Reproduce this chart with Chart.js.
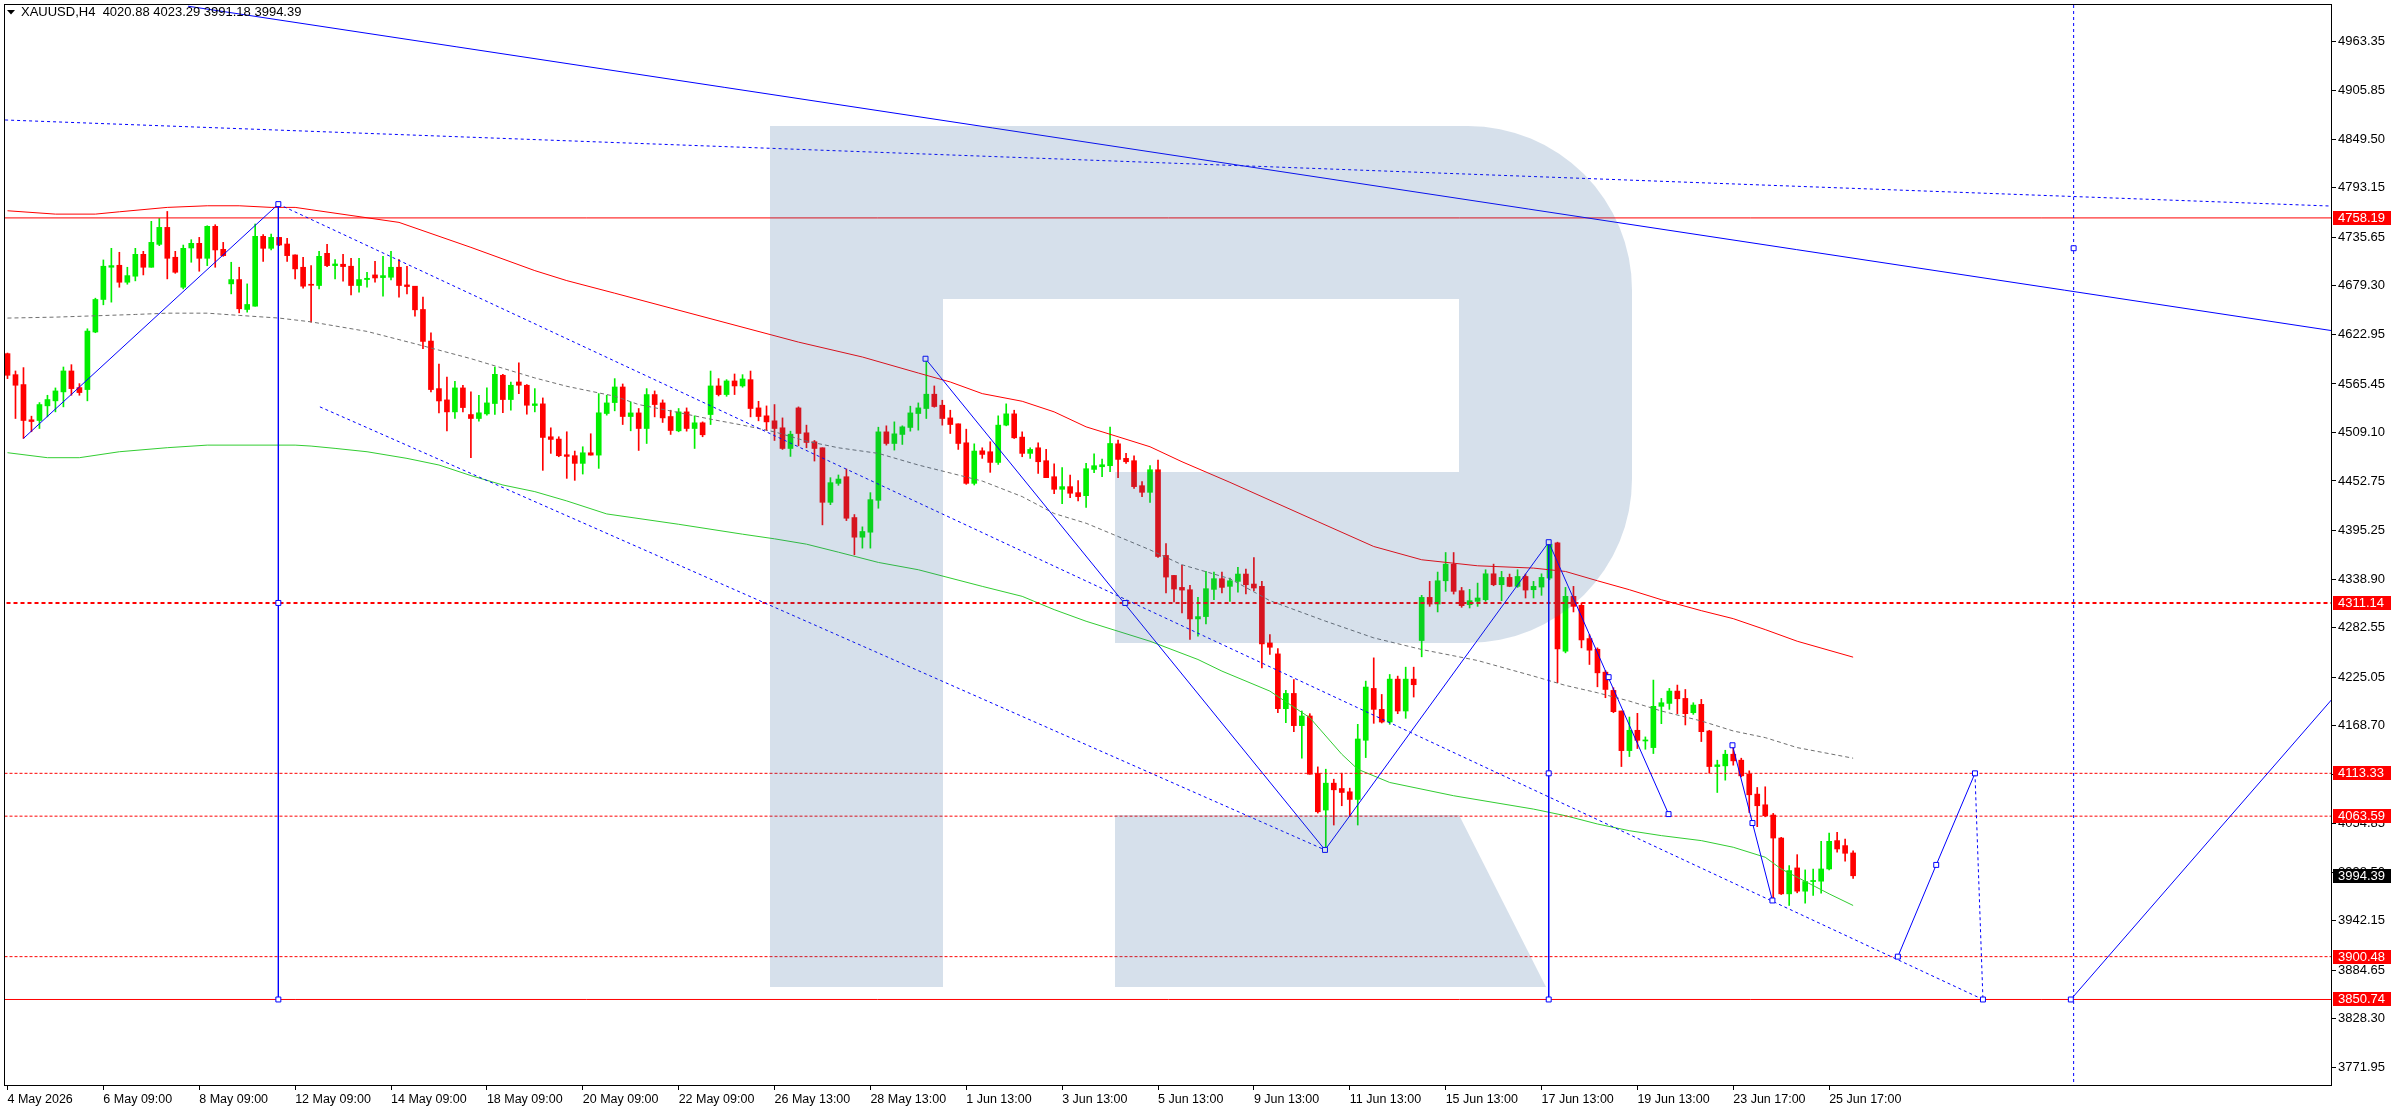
<!DOCTYPE html>
<html>
<head>
<meta charset="utf-8">
<script src="https://cdn.jsdelivr.net/npm/chart.js@4.4.1/dist/chart.umd.min.js"></script>
<style>
html, body { margin: 0; padding: 0; background: #fff; overflow: hidden; }
#chart { display: block; }
</style>
</head>
<body>
<canvas id="chart" width="2396" height="1110" style="width:2396px;height:1110px"></canvas>
<script>
// XAUUSD H4 candles, one per bar index (0 = first visible bar)
const opens = [
  4600.6,4576.2,4564.7,4523.8,4523.0,4540.0,4545.8,4556.2,4580.5,4561.2,
  4558.9,4625.7,4663.5,4700.9,4703.2,4683.5,4690.5,4715.9,4700.9,4727.5,
  4747.2,4712.5,4677.7,4723.3,4728.7,4711.3,4748.4,4721.7,4681.6,4686.6,
  4651.9,4655.7,4736.8,4722.9,4735.6,4727.9,4715.2,4700.9,4680.8,4679.7,
  4717.1,4702.8,4704.4,4702.1,4679.7,4686.6,4692.0,4688.9,4689.3,4700.9,
  4680.4,4678.9,4651.9,4615.2,4560.0,4546.9,4533.0,4560.8,4529.9,4525.3,
  4530.7,4542.7,4575.5,4547.3,4567.7,4563.9,4540.4,4542.3,4504.1,4501.4,
  4483.2,4482.1,4473.2,4485.5,4482.8,4531.1,4543.8,4561.9,4527.6,4531.8,
  4513.7,4553.1,4543.4,4527.6,4511.0,4533.0,4513.7,4520.3,4529.9,4563.1,
  4553.1,4568.9,4563.1,4570.4,4537.6,4528.4,4522.6,4514.5,4490.5,4537.6,
  4508.7,4498.3,4491.3,4428.0,4450.0,4457.7,4410.3,4387.5,4393.3,4430.3,
  4509.8,4496.3,4506.8,4514.9,4531.1,4536.9,4553.5,4540.7,4526.0,4519.1,
  4497.1,4450.0,4487.8,4486.7,4474.3,4517.6,4530.7,4503.7,4484.8,4491.3,
  4476.3,4457.7,4443.1,4446.2,4439.2,4435.7,4466.2,4469.3,4470.5,4495.9,
  4479.0,4476.3,4447.3,4439.6,4465.8,4366.3,4343.1,4329.2,4326.5,4292.6,
  4295.3,4326.9,4339.3,4330.4,4336.2,4344.7,4333.1,4330.4,4264.8,4252.0,
  4188.4,4206.1,4168.7,4179.9,4113.1,4070.7,4101.9,4095.7,4091.9,4083.0,
  4151.7,4211.9,4187.6,4172.9,4222.7,4185.7,4222.7,4267.5,4317.6,4309.9,
  4336.9,4356.2,4325.4,4309.1,4313.0,4314.9,4345.0,4332.3,4340.8,4330.4,
  4341.9,4326.5,4329.6,4340.0,4380.9,4255.1,4318.8,4308.4,4269.8,4257.4,
  4230.8,4209.6,4185.7,4139.7,4163.3,4150.9,4143.2,4191.1,4194.5,4208.8,
  4200.3,4183.7,4193.4,4162.5,4121.2,4122.0,4135.5,4128.6,4112.3,4089.2,
  4076.8,4064.9,4038.2,3973.4,4003.5,3976.5,3987.7,3988.1,4002.3,4035.2,
  4029.4,4020.88
];
const highs = [
  4601.3,4580.5,4584.4,4528.0,4543.8,4552.3,4560.8,4585.1,4587.8,4565.8,
  4629.5,4665.0,4709.4,4722.9,4718.3,4700.9,4722.9,4719.4,4754.2,4757.6,
  4765.7,4719.4,4726.7,4732.9,4735.6,4749.1,4750.3,4729.8,4706.7,4700.9,
  4681.6,4751.1,4738.7,4739.5,4735.6,4734.5,4715.2,4712.5,4702.8,4719.4,
  4727.5,4709.8,4715.9,4711.3,4711.3,4695.1,4707.8,4713.6,4719.4,4709.8,
  4702.1,4678.9,4666.2,4624.9,4588.6,4573.5,4568.5,4563.9,4556.2,4552.3,
  4560.8,4585.1,4576.6,4567.7,4589.8,4564.7,4560.0,4549.2,4514.5,4504.1,
  4509.9,4487.5,4492.5,4507.6,4554.2,4552.3,4571.6,4565.4,4544.6,4536.9,
  4560.0,4557.3,4546.9,4534.9,4536.9,4537.6,4528.4,4521.4,4580.4,4571.6,
  4570.4,4577.0,4576.2,4580.4,4545.3,4539.9,4541.5,4526.0,4510.6,4538.8,
  4517.6,4499.8,4491.3,4456.6,4459.7,4466.6,4413.8,4399.5,4439.2,4515.2,
  4516.8,4521.4,4516.8,4539.6,4543.4,4594.7,4563.1,4546.5,4534.9,4519.1,
  4512.9,4495.9,4491.3,4498.3,4528.4,4542.3,4534.9,4509.8,4491.3,4497.1,
  4489.4,4472.8,4468.2,4459.7,4453.1,4473.2,4484.4,4478.2,4515.2,4500.2,
  4484.8,4482.1,4452.0,4470.5,4477.0,4380.2,4343.1,4354.7,4331.6,4317.7,
  4347.8,4347.0,4347.0,4340.0,4352.4,4350.4,4363.9,4336.2,4274.4,4258.2,
  4209.6,4222.3,4185.7,4182.6,4120.8,4118.1,4106.5,4113.5,4096.1,4170.2,
  4220.4,4247.4,4204.9,4228.1,4226.2,4236.6,4236.6,4320.0,4336.2,4347.0,
  4369.7,4369.7,4329.2,4326.9,4334.2,4349.7,4356.2,4347.8,4344.7,4349.7,
  4344.7,4336.2,4345.0,4383.2,4381.7,4329.2,4330.4,4311.1,4274.4,4259.0,
  4232.7,4212.7,4185.7,4178.7,4183.0,4155.6,4221.6,4200.3,4211.9,4215.8,
  4210.7,4195.3,4199.2,4163.3,4128.6,4140.1,4146.3,4130.9,4116.2,4096.9,
  4097.7,4066.8,4039.0,4006.2,4018.9,4001.2,4002.3,4034.4,4044.0,4044.8,
  4037.1,4023.29
];
const lows = [
  4571.6,4525.3,4502.2,4509.9,4513.7,4527.2,4533.0,4538.8,4552.3,4552.3,
  4545.8,4624.9,4657.3,4660.4,4677.7,4681.2,4685.1,4692.0,4700.9,4726.0,
  4687.4,4693.9,4675.8,4706.7,4696.3,4702.8,4700.9,4713.6,4670.0,4648.0,
  4648.8,4655.7,4707.8,4721.0,4726.0,4707.8,4687.4,4676.6,4637.2,4675.8,
  4701.7,4687.4,4684.7,4668.9,4671.9,4677.7,4683.5,4667.3,4686.2,4666.2,
  4670.0,4644.2,4606.3,4556.2,4531.9,4511.0,4525.3,4533.0,4479.8,4522.2,
  4529.2,4529.9,4532.2,4534.9,4554.2,4530.3,4533.0,4465.1,4484.8,4480.9,
  4455.8,4453.5,4460.8,4482.8,4467.4,4529.2,4534.2,4518.3,4511.0,4488.2,
  4496.3,4527.2,4520.7,4506.8,4509.9,4510.6,4490.5,4504.1,4518.3,4551.5,
  4551.1,4553.1,4561.6,4527.2,4522.6,4511.4,4499.8,4489.4,4481.3,4493.6,
  4491.3,4475.9,4401.8,4425.3,4447.7,4406.8,4367.1,4374.8,4374.8,4421.1,
  4494.4,4488.6,4495.2,4510.6,4511.8,4525.3,4538.4,4517.6,4507.9,4489.4,
  4448.9,4448.1,4479.0,4462.8,4472.0,4516.8,4502.1,4480.9,4479.0,4461.6,
  4456.6,4438.1,4426.5,4433.4,4429.6,4422.2,4462.4,4457.7,4463.5,4456.6,
  4473.2,4444.2,4434.6,4428.0,4364.0,4322.7,4312.3,4299.5,4268.7,4272.5,
  4286.8,4314.9,4322.7,4313.0,4323.8,4321.5,4325.4,4235.8,4251.3,4183.7,
  4172.2,4161.7,4130.9,4112.3,4067.2,4024.4,4053.3,4075.7,4063.3,4053.3,
  4131.6,4171.4,4171.8,4170.2,4182.6,4177.2,4201.9,4248.6,4307.2,4300.7,
  4324.6,4321.5,4306.1,4305.3,4307.2,4313.0,4331.1,4313.8,4330.0,4329.2,
  4316.9,4316.9,4320.0,4338.0,4218.5,4253.2,4300.7,4259.0,4239.7,4213.8,
  4201.1,4183.7,4121.2,4132.8,4142.1,4141.3,4136.3,4171.0,4187.6,4182.6,
  4169.5,4181.8,4150.2,4113.5,4091.1,4105.4,4122.8,4109.3,4067.9,4051.4,
  4062.9,3966.5,3972.6,3959.9,3974.6,3962.6,3971.5,3974.2,4001.2,4021.7,
  4011.2,3991.18
];
const closes = [
  4575.5,4563.9,4523.0,4521.8,4541.5,4547.3,4557.3,4580.5,4560.0,4555.4,
  4626.8,4663.5,4702.1,4702.8,4683.5,4691.2,4715.9,4700.9,4729.8,4747.2,
  4711.3,4695.1,4722.9,4728.7,4711.3,4748.4,4721.0,4714.4,4686.6,4652.7,
  4657.7,4736.8,4722.9,4735.6,4726.7,4714.4,4699.0,4678.9,4680.0,4713.6,
  4702.8,4704.7,4701.7,4679.7,4686.6,4688.1,4688.5,4691.2,4700.9,4679.7,
  4678.5,4651.5,4614.8,4558.9,4545.7,4533.0,4560.8,4538.0,4525.3,4531.9,
  4543.4,4576.6,4547.3,4563.9,4563.9,4540.7,4542.3,4503.3,4501.0,4482.1,
  4481.3,4473.2,4485.5,4482.8,4531.9,4543.4,4561.9,4527.6,4531.8,4513.7,
  4553.1,4541.5,4526.0,4511.4,4533.0,4513.7,4520.3,4506.4,4563.1,4553.1,
  4568.9,4563.1,4571.2,4536.9,4527.6,4521.4,4513.7,4490.5,4507.1,4507.9,
  4497.5,4490.5,4428.0,4450.8,4455.0,4409.5,4387.5,4394.1,4431.1,4509.8,
  4496.3,4507.5,4515.6,4531.8,4537.6,4553.5,4539.2,4525.3,4518.3,4496.3,
  4450.0,4487.5,4483.6,4474.3,4517.6,4530.7,4502.9,4484.8,4489.4,4475.1,
  4456.6,4443.1,4446.2,4438.5,4434.6,4467.0,4470.5,4471.6,4496.3,4477.8,
  4475.1,4446.2,4439.6,4465.8,4365.1,4341.2,4327.3,4326.1,4292.6,4295.3,
  4327.7,4339.3,4329.2,4336.9,4344.7,4332.3,4328.5,4263.6,4259.7,4188.4,
  4206.1,4168.7,4179.9,4112.3,4068.7,4101.9,4094.2,4091.1,4083.0,4153.2,
  4213.5,4187.6,4172.9,4222.7,4185.7,4222.7,4216.2,4317.6,4309.9,4336.9,
  4356.2,4324.6,4308.0,4313.8,4316.9,4345.0,4332.3,4340.8,4330.4,4341.9,
  4326.1,4330.4,4340.8,4379.4,4257.8,4318.8,4307.2,4268.2,4256.3,4230.0,
  4210.7,4184.9,4139.7,4163.3,4151.7,4152.1,4191.1,4195.3,4208.8,4199.9,
  4182.6,4192.6,4161.7,4121.2,4123.2,4135.5,4127.8,4110.4,4088.4,4075.7,
  4064.1,4038.2,3973.4,4000.4,3976.5,3987.7,3988.9,4002.3,4034.4,4025.5,
  4020.5,3994.39
];

// time axis: label every 12 bars
const timeTickBars = [0,12,24,36,48,60,72,84,96,108,120,132,144,156,168,180,192,204,216,228];
const timeLabels = ["4 May 2026","6 May 09:00","8 May 09:00","12 May 09:00","14 May 09:00",
  "18 May 09:00","20 May 09:00","22 May 09:00","26 May 13:00","28 May 13:00",
  "1 Jun 13:00","3 Jun 13:00","5 Jun 13:00","9 Jun 13:00","11 Jun 13:00",
  "15 Jun 13:00","17 Jun 13:00","19 Jun 13:00","23 Jun 17:00","25 Jun 17:00"];

const priceTicks = [4963.35,4905.85,4849.50,4793.15,4735.65,4679.30,4622.95,4565.45,4509.10,
  4452.75,4395.25,4338.90,4282.55,4225.05,4168.70,4112.35,4054.85,3998.50,3942.15,3884.65,
  3828.30,3771.95];
const priceMin = 3750.3, priceMax = 5005.4;

// moving averages, read at sample bars
const redMaBars = [0,6,11,14,20,25,29,33,36,38,49,58,66,70,76,99,107,114,118,122,127,131,135,139,143,147,153,164,171,177,184,191,195,199,203,207,212,216,220,224,231];
const redMaVals = [4766.5,4762.6,4762.6,4765.3,4770.4,4772.3,4772.3,4770.4,4770.4,4767.7,4753.0,4724.0,4697.0,4685.4,4670.8,4614.0,4596.7,4578.1,4567.7,4554.2,4545.3,4533.0,4515.6,4504.1,4492.5,4475.1,4451.2,4405.6,4376.7,4361.3,4354.3,4351.6,4347.7,4336.9,4326.5,4314.9,4302.2,4292.9,4280.2,4266.7,4248.2];
const grayMaBars = [0,6,16,20,25,29,34,38,45,51,58,66,70,76,79,84,88,92,96,100,104,109,114,122,127,131,135,139,143,147,153,158,165,171,177,184,191,195,199,203,207,212,216,220,224,231];
const grayMaVals = [4641.9,4643.0,4646.1,4647.6,4647.6,4645.0,4641.9,4637.5,4626.4,4612.1,4594.8,4572.4,4562.7,4551.2,4541.5,4532.2,4524.5,4517.6,4509.8,4499.0,4491.3,4484.8,4471.3,4452.7,4434.6,4415.0,4403.7,4388.3,4372.8,4355.5,4339.3,4313.8,4289.9,4270.6,4257.1,4244.3,4226.2,4215.4,4206.9,4197.2,4185.7,4174.1,4162.5,4154.8,4143.2,4130.9];
const greenMaBars = [0,5,9,14,20,25,36,38,41,45,50,54,58,62,66,70,75,84,92,96,100,104,109,114,122,127,131,135,139,143,149,152,158,163,167,169,173,181,191,195,199,203,207,212,216,220,222,224,228,231];
const greenMaVals = [4485.6,4479.8,4479.8,4486.7,4491.4,4494.4,4494.4,4493.3,4490.6,4486.7,4479.0,4471.3,4459.0,4448.1,4440.4,4429.6,4414.5,4402.5,4391.0,4385.6,4379.4,4370.1,4358.2,4349.7,4330.4,4318.8,4303.4,4289.9,4278.3,4266.7,4245.5,4232.0,4208.8,4177.9,4135.5,4118.1,4102.7,4087.3,4071.8,4064.1,4054.5,4046.7,4041.0,4035.2,4027.5,4015.9,4002.3,3992.7,3973.4,3959.9];

// drawn objects: [bar, price] points
const solidLines = [
  [[2, 4502.2], [33.9, 4774.2]],
  [[114.9, 4594.7], [164.9, 4024.4], [192.9, 4381.7]],
  [[192.9, 4381.7], [207.9, 4066.0]],
  [[215.9, 4145.9], [220.9, 3965.7]],
  [[236.6, 3900.5], [241.4, 4007.0], [246.25, 4113.33]],
  [[258.25, 3850.74], [291, 4200.0]],
  [[33.9, 4774.2], [33.9, 3850.74]],
  [[192.9, 4381.7], [192.9, 3850.74]],
  [[22.6, 5004.0], [291, 4627.2]]
];
const dottedLines = [
  [[33.9, 4774.2], [247.25, 3850.74]],
  [[39.1, 4538.8], [164.9, 4024.4]],
  [[-0.3, 4871.9], [291, 4771.9]],
  [[246.25, 4113.33], [247.25, 3850.74]],
  [[258.6, 5005.4], [258.6, 3750.3]]
];
const anchorPoints = [[33.9,4774.2],[33.9,4311.14],[33.9,3850.74],[114.9,4594.7],[139.9,4311.1],
  [164.9,4024.4],[192.9,4381.7],[192.9,4113.33],[192.9,3850.74],[200.4,4225.0],[207.9,4066.0],
  [215.9,4145.9],[218.4,4055.6],[220.9,3965.7],[236.6,3900.5],[241.4,4007.0],[246.25,4113.33],
  [247.25,3850.74],[258.25,3850.74],[258.6,4723.0]];

const solidLevels = [4758.19, 3850.74];
const dottedLevels = [4311.14];
const dashedLevels = [4113.33, 4063.59, 3900.48];
const lastPrice = 3994.39;
const titleText = "XAUUSD,H4  4020.88 4023.29 3991.18 3994.39";

const BULL = '#00ee00', BEAR = '#ff0000', BLUE = '#0000ff';
const xMin = -0.3125, xMax = xMin + 2330 / 8;

const pts = arr => arr.map(([x, y]) => ({x, y}));
const maPts = (bars, vals) => bars.map((b, i) => ({x: b, y: vals[i]}));
const candleColors = closes.map((c, i) => c >= opens[i] ? BULL : BEAR);

const datasets = [];
datasets.push({
  type: 'line', data: pts(anchorPoints), showLine: false,
  pointStyle: 'rect', pointRadius: 3.5, pointBorderWidth: 1,
  pointBorderColor: BLUE, pointBackgroundColor: '#ffffff'
});
solidLines.forEach(l => datasets.push({
  type: 'line', data: pts(l), borderColor: BLUE, borderWidth: 1, pointRadius: 0
}));
dottedLines.forEach(l => datasets.push({
  type: 'line', data: pts(l), borderColor: BLUE, borderWidth: 1, borderDash: [3, 3], pointRadius: 0
}));
solidLevels.forEach(v => datasets.push({
  type: 'line', data: [{x: -1, y: v}, {x: 300, y: v}], borderColor: '#ff0000', borderWidth: 1, pointRadius: 0
}));
dottedLevels.forEach(v => datasets.push({
  type: 'line', data: [{x: -1, y: v}, {x: 300, y: v}], borderColor: '#ff0000', borderWidth: 2, borderDash: [4, 3], pointRadius: 0
}));
dashedLevels.forEach(v => datasets.push({
  type: 'line', data: [{x: -1, y: v}, {x: 300, y: v}], borderColor: '#ff0000', borderWidth: 1, borderDash: [3, 2], pointRadius: 0
}));
datasets.push({ type: 'line', data: maPts(redMaBars, redMaVals), borderColor: '#ff0000', borderWidth: 1, pointRadius: 0 });
datasets.push({ type: 'line', data: maPts(grayMaBars, grayMaVals), borderColor: '#707070', borderWidth: 1, borderDash: [4, 3], pointRadius: 0 });
datasets.push({ type: 'line', data: maPts(greenMaBars, greenMaVals), borderColor: '#32cd32', borderWidth: 1, pointRadius: 0 });
// candle bodies and wicks as floating bars
datasets.push({
  type: 'bar', data: closes.map((c, i) => ({x: i, y: [opens[i], c]})),
  backgroundColor: candleColors, borderWidth: 0, barThickness: 5, grouped: false, minBarLength: 1
});
datasets.push({
  type: 'bar', data: highs.map((h, i) => ({x: i, y: [lows[i], h]})),
  backgroundColor: candleColors, borderWidth: 0, barThickness: 1, grouped: false
});

const chartPlugin = {
  id: 'mtLook',
  beforeDraw(chart) {
    const ctx = chart.ctx;
    ctx.save();
    ctx.fillStyle = '#ffffff';
    ctx.fillRect(0, 0, chart.width, chart.height);
    ctx.restore();
  },
  afterDatasetsDraw(chart) {
    // broker logo watermark, drawn over the chart with transparency
    const ctx = chart.ctx, ca = chart.chartArea;
    const ox = ca.left - 2, oy = ca.top - 2;
    ctx.save();
    ctx.beginPath();
    ctx.rect(ca.left, ca.top, ca.right - ca.left, ca.bottom - ca.top);
    ctx.clip();
    ctx.translate(ox, oy);
    ctx.fillStyle = 'rgba(49,98,157,0.2)';
    ctx.beginPath();
    ctx.moveTo(767, 123);
    ctx.lineTo(1465, 123);
    ctx.arc(1465, 287, 164, -Math.PI / 2, 0);
    ctx.lineTo(1629, 476);
    ctx.arc(1465, 476, 164, 0, Math.PI / 2);
    ctx.lineTo(1112, 640);
    ctx.lineTo(1112, 469);
    ctx.lineTo(1456, 469);
    ctx.lineTo(1456, 296);
    ctx.lineTo(940, 296);
    ctx.lineTo(940, 984);
    ctx.lineTo(767, 984);
    ctx.closePath();
    ctx.moveTo(1112, 812);
    ctx.lineTo(1456, 812);
    ctx.lineTo(1543, 984);
    ctx.lineTo(1112, 984);
    ctx.closePath();
    ctx.fill();
    ctx.restore();
  },
  afterDraw(chart) {
    const ctx = chart.ctx, ca = chart.chartArea, y = chart.scales.y;
    ctx.save();
    // frame
    ctx.strokeStyle = '#000';
    ctx.lineWidth = 1;
    ctx.strokeRect(ca.left - 0.5, ca.top - 0.5, ca.right - ca.left, ca.bottom - ca.top);
    // title
    ctx.fillStyle = '#000';
    ctx.beginPath();
    ctx.moveTo(7, 10); ctx.lineTo(15, 10); ctx.lineTo(11, 14.5); ctx.closePath();
    ctx.fill();
    ctx.font = "13px 'Liberation Sans', Arial, sans-serif";
    ctx.textBaseline = 'middle';
    ctx.textAlign = 'left';
    ctx.fillText(titleText, 21, 12.5);
    // price tags on the axis
    const tag = (v, bg) => {
      const py = Math.round(y.getPixelForValue(v));
      ctx.fillStyle = bg;
      ctx.fillRect(ca.right + 1, py - 7, 58, 14);
      ctx.fillStyle = '#ffffff';
      ctx.fillText(v.toFixed(2), ca.right + 6, py + 0.5);
    };
    [...solidLevels, ...dottedLevels, ...dashedLevels].forEach(v => tag(v, '#ff0000'));
    tag(lastPrice, '#000000');
    ctx.restore();
  }
};

Chart.defaults.font.family = "'Liberation Sans', Arial, sans-serif";
Chart.defaults.font.size = 13;
Chart.defaults.color = '#000';

new Chart(document.getElementById('chart'), {
  type: 'bar',
  data: { datasets: datasets },
  plugins: [chartPlugin],
  options: {
    responsive: false,
    devicePixelRatio: 1,
    animation: false,
    events: [],
    layout: { padding: { left: 2, top: 2, right: 0, bottom: 0 } },
    elements: { line: { tension: 0 } },
    plugins: { legend: { display: false }, tooltip: { enabled: false } },
    scales: {
      x: {
        type: 'linear', min: xMin, max: xMax, offset: false,
        grid: { display: true, drawOnChartArea: false, drawTicks: true, tickLength: 4, color: '#000', offset: false },
        border: { display: false },
        afterBuildTicks: s => { s.ticks = timeTickBars.map(v => ({value: v})); },
        afterFit: s => { s.height = 24; s.paddingLeft = 0; s.paddingRight = 0; },
        ticks: {
          autoSkip: false, maxRotation: 0, minRotation: 0, align: 'start', padding: 2,
          font: { size: 12.5 },
          callback: v => timeLabels[timeTickBars.indexOf(v)]
        }
      },
      y: {
        type: 'linear', position: 'right', min: priceMin, max: priceMax, beginAtZero: false,
        grid: { display: true, drawOnChartArea: false, drawTicks: true, tickLength: 4, color: '#000' },
        border: { display: false },
        afterBuildTicks: s => { s.ticks = priceTicks.map(v => ({value: v})); },
        afterFit: s => { s.width = 64; s.paddingTop = 0; s.paddingBottom = 0; },
        ticks: { autoSkip: false, padding: 2, callback: v => v.toFixed(2) }
      }
    }
  }
});
</script>
</body>
</html>
